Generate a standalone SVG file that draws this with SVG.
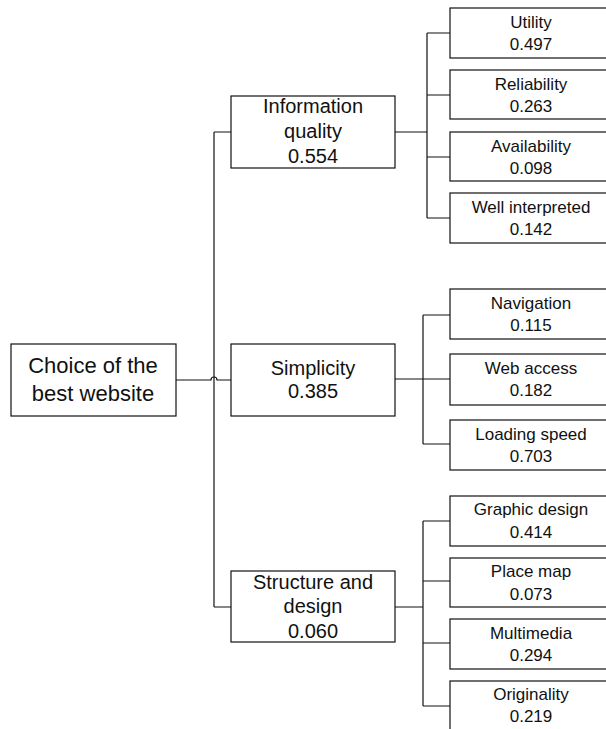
<svg xmlns="http://www.w3.org/2000/svg" width="606" height="729" viewBox="0 0 606 729">
<style>
.box{fill:#fff;stroke:#111;stroke-width:1.2}
.ln{fill:none;stroke:#111;stroke-width:1.2}
text{font-family:"Liberation Sans",Arial,sans-serif;fill:#111;text-anchor:middle}
.r{font-size:22px}
.m{font-size:20px}
.c{font-size:17px}
</style>
<rect width="606" height="729" fill="#fff"/>
<g id="connectors">
<path class="ln" d="M214,132 V607"/>
<path class="ln" d="M176,380 H211 A3,3 0 0 1 217,380 H231"/>
<path class="ln" d="M214,132 H231 M214,607 H231"/>
<path class="ln" d="M395,132 H427 M427,33 V218 M427,33 H450 M427,95 H450 M427,157 H450 M427,218 H450"/>
<path class="ln" d="M395,379 H423 M423,315 V444 M423,315 H450 M423,379 H450 M423,444 H450"/>
<path class="ln" d="M395,607 H423 M423,521 V706 M423,521 H450 M423,581 H450 M423,643 H450 M423,706 H450"/>
</g>
<g id="root"><rect class="box" x="11" y="344" width="165" height="72"/><text class="r" x="93" y="373">Choice of the</text><text class="r" x="93" y="401">best website</text></g>
<g id="info"><rect class="box" x="231" y="96" width="164" height="72"/><text class="m" x="313" y="113">Information</text><text class="m" x="313" y="138">quality</text><text class="m" x="313" y="163">0.554</text></g>
<g id="simp"><rect class="box" x="231" y="344" width="164" height="72"/><text class="m" x="313" y="375">Simplicity</text><text class="m" x="313" y="398">0.385</text></g>
<g id="struct"><rect class="box" x="231" y="571" width="164" height="71"/><text class="m" x="313" y="589">Structure and</text><text class="m" x="313" y="613">design</text><text class="m" x="313" y="638">0.060</text></g>
<g id="utility"><rect class="box" x="450" y="8" width="162" height="50"/><text class="c" x="531" y="28">Utility</text><text class="c" x="531" y="50">0.497</text></g>
<g id="reliability"><rect class="box" x="450" y="70" width="162" height="49"/><text class="c" x="531" y="90">Reliability</text><text class="c" x="531" y="112">0.263</text></g>
<g id="availability"><rect class="box" x="450" y="132" width="162" height="49"/><text class="c" x="531" y="152">Availability</text><text class="c" x="531" y="174">0.098</text></g>
<g id="wellinterpreted"><rect class="box" x="450" y="193" width="162" height="50"/><text class="c" x="531" y="213">Well interpreted</text><text class="c" x="531" y="235">0.142</text></g>
<g id="navigation"><rect class="box" x="450" y="289" width="162" height="50"/><text class="c" x="531" y="309">Navigation</text><text class="c" x="531" y="331">0.115</text></g>
<g id="webaccess"><rect class="box" x="450" y="354" width="162" height="51"/><text class="c" x="531" y="374">Web access</text><text class="c" x="531" y="396">0.182</text></g>
<g id="loading"><rect class="box" x="450" y="420" width="162" height="50"/><text class="c" x="531" y="440">Loading speed</text><text class="c" x="531" y="462">0.703</text></g>
<g id="graphic"><rect class="box" x="450" y="496" width="162" height="50"/><text class="c" x="531" y="515">Graphic design</text><text class="c" x="531" y="538">0.414</text></g>
<g id="placemap"><rect class="box" x="450" y="558" width="162" height="49"/><text class="c" x="531" y="577">Place map</text><text class="c" x="531" y="600">0.073</text></g>
<g id="multimedia"><rect class="box" x="450" y="619" width="162" height="50"/><text class="c" x="531" y="639">Multimedia</text><text class="c" x="531" y="661">0.294</text></g>
<g id="originality"><rect class="box" x="450" y="681" width="162" height="50"/><text class="c" x="531" y="700">Originality</text><text class="c" x="531" y="722">0.219</text></g>
</svg>
